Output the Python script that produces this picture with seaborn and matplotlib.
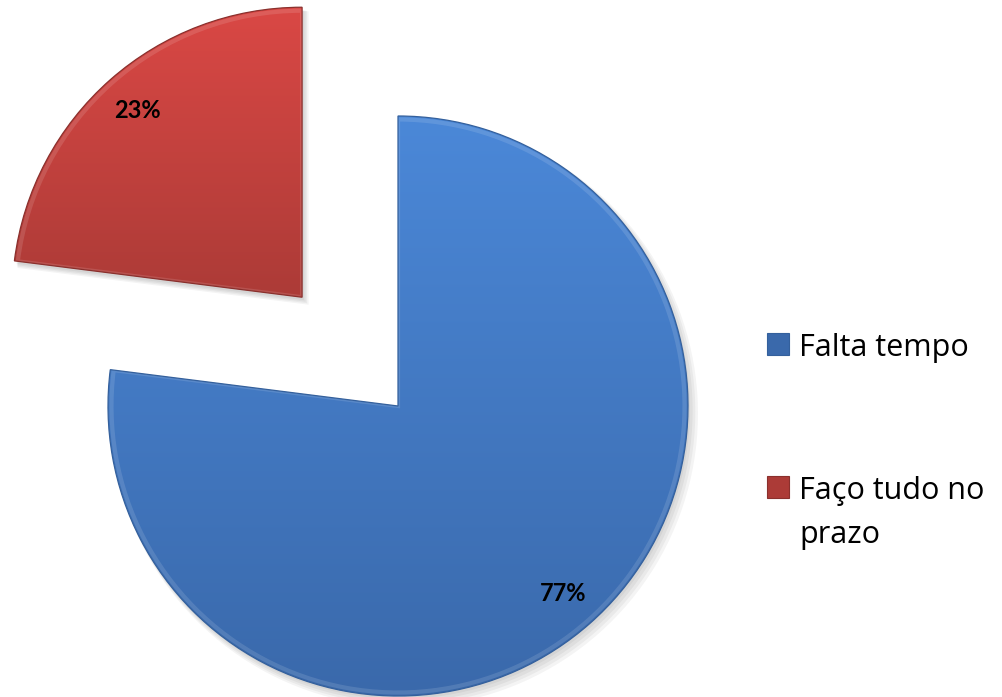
import numpy as np
import matplotlib
matplotlib.use("Agg")
import matplotlib.pyplot as plt
import seaborn as sns
from matplotlib.colors import LinearSegmentedColormap
from matplotlib.patches import Wedge, Rectangle
import matplotlib.transforms as mtransforms

# Survey answers
labels = ["Falta tempo", "Faço tudo no\nprazo"]
shares = [77, 23]
explode = [0, 0.5]

sns.set_theme(style="white")
plt.rcParams["font.family"] = ["Lato", "DejaVu Sans"]

# colour ramps (top -> bottom) for each slice
ramps = [("#4b88d8", "#3a69ab"), ("#da4845", "#ac3b37")]
edges = ["#34609c", "#8a302d"]

W, H = 1003, 697
cx, cy, R = 398, 406, 290

fig = plt.figure(figsize=(W / 100, H / 100), dpi=100)
fig.patch.set_facecolor("white")
ax = fig.add_axes([0, 0, 1, 1])

wedges, texts, autotexts = ax.pie(
    shares,
    explode=explode,
    startangle=90,
    counterclock=False,
    autopct=lambda p: f"{p:.0f}%",
    pctdistance=0.86,
    textprops=dict(fontsize=17, fontweight="bold", color="black"),
    wedgeprops=dict(linewidth=0.9),
)

for w, (c_top, c_bot), ec in zip(wedges, ramps, edges):
    # soft drop shadow
    for k in range(4):
        off = mtransforms.offset_copy(ax.transData, fig=fig,
                                      x=2 + k * 1.5, y=-(3 + k * 1.5), units="dots")
        sh = Wedge(w.center, w.r + 0.004 * k, w.theta1, w.theta2,
                   facecolor="black", edgecolor="none", alpha=0.045,
                   transform=off, zorder=0.5)
        ax.add_patch(sh)
    # vertical gradient fill clipped to the slice
    ext = w.get_path().get_extents()
    cmap = LinearSegmentedColormap.from_list("g", [c_bot, c_top])
    grad = np.linspace(0, 1, 256).reshape(-1, 1)
    im = ax.imshow(grad, extent=[ext.x0, ext.x1, ext.y0, ext.y1],
                   origin="lower", cmap=cmap, aspect="auto", zorder=0.8,
                   interpolation="bilinear")
    im.set_clip_path(w)
    # thin light bevel just inside the outline
    bevel = Wedge(w.center, w.r - 0.012, w.theta1, w.theta2,
                  facecolor="none", edgecolor="white", alpha=0.12,
                  linewidth=3, zorder=0.9)
    ax.add_patch(bevel)
    bevel.set_clip_path(w)
    w.set_facecolor("none")
    w.set_edgecolor(ec)
    w.set_zorder(1)

for t in autotexts:
    t.set_zorder(3)

ax.set_xlim(-cx / R, (W - cx) / R)
ax.set_ylim(-(H - cy) / R, cy / R)
ax.set_aspect("auto")
ax.axis("off")

# legend drawn at the right side
leg_x = 767 / W
box = 22
baselines = [356, 499]
line_gap = 44
for lab, (c_top, c_bot), ec, base in zip(labels, ramps, edges, baselines):
    fig.add_artist(Rectangle((leg_x, 1 - (base - 1) / H), box / W, box / H,
                             transform=fig.transFigure,
                             facecolor=c_bot, edgecolor=ec, linewidth=0.8))
    for i, line in enumerate(lab.split("\n")):
        fig.text(799 / W, 1 - (base + i * line_gap) / H, line,
                 fontsize=22, color="black", va="baseline", ha="left",
                 family=["Open Sans", "DejaVu Sans"])

fig.savefig("out.png", dpi=100)
